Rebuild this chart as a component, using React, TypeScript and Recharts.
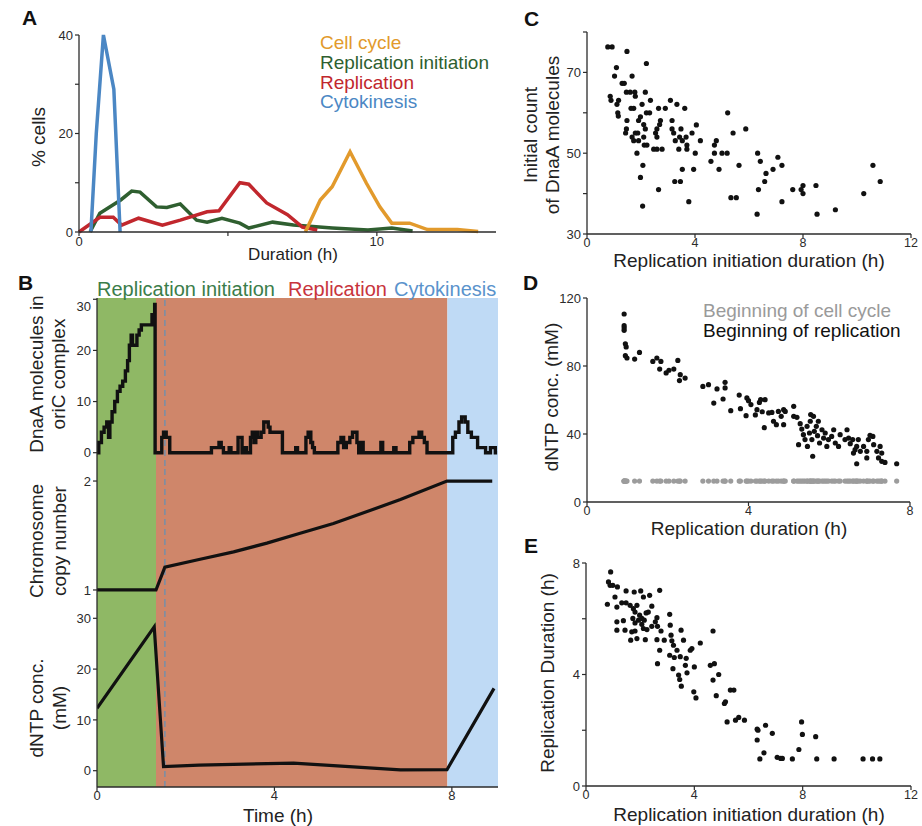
import React from "react";
import {
  LineChart,
  Line,
  ScatterChart,
  Scatter,
  XAxis,
  YAxis,
  ReferenceArea,
  ReferenceLine,
} from "recharts";

// ---- A: distribution of phase durations (h -> % cells)
const cellCycleHours = [7.6, 8.1, 8.5, 9.1, 9.65, 10.1, 10.5, 11.1, 11.7, 12.7, 13.4];
const cellCyclePct = [0, 6.5, 9.2, 16.3, 9.9, 5.1, 1.8, 1.8, 0.5, 0.5, 0.1];
const initiationHours = [0.37, 0.7, 1.4, 1.77, 2.05, 2.6, 2.95, 3.4, 3.95, 4.3, 4.8, 5.4, 5.7, 6.5, 7.2, 8.5, 9.7, 10.5, 11.2];
const initiationPct = [0, 3.8, 6.5, 8.3, 8.1, 5.1, 5.0, 5.7, 2.4, 2.0, 2.8, 1.8, 0.8, 2.0, 1.4, 0.8, 0.4, 0.8, 0.2];
const replicationHours = [0, 0.7, 1.15, 1.43, 2.0, 2.8, 3.4, 4.3, 4.7, 5.4, 5.7, 6.3, 7.0, 7.5, 8.0];
const replicationPct = [0, 3.0, 3.0, 1.4, 2.8, 1.4, 2.4, 4.1, 4.3, 10, 9.7, 5.9, 3.5, 1.0, 0.4];
const cytokinesisHours = [0.4, 0.58, 0.82, 1.17, 1.38];
const cytokinesisPct = [0, 20, 40, 29, 0];

// ---- B: single cell trace over time (h)
const phaseBounds = [0, 1.33, 7.9, 9.04]; // initiation | replication | cytokinesis
const replicationStart = 1.53;
const dnaaTime = [
  0, 0.04, 0.1, 0.16, 0.22, 0.26, 0.29, 0.34, 0.4, 0.46, 0.52, 0.58, 0.64, 0.69, 0.73, 0.77, 0.8, 0.86, 0.9, 0.95, 1.0, 1.1, 1.2, 1.24, 1.3, 1.31,
  1.4, 1.46, 1.5, 1.56, 1.64,
  2.55, 2.58, 2.7, 2.75, 2.8, 2.85, 2.95, 2.98, 3.02, 3.15, 3.18, 3.24, 3.27, 3.32, 3.34, 3.37, 3.44, 3.46, 3.5, 3.54, 3.58, 3.62, 3.7, 3.76, 3.82, 3.86, 3.9, 4.12, 4.18,
  4.45, 4.48, 4.52, 4.68, 4.71, 4.76, 4.82, 4.86, 4.9,
  5.4, 5.43, 5.5, 5.56, 5.62, 5.7, 5.76, 5.82, 5.86, 5.9, 5.96, 6.0, 6.37, 6.4, 6.44, 6.66, 6.69, 6.74,
  7.0, 7.05, 7.12, 7.2, 7.26, 7.32, 7.38, 7.44,
  7.97, 8.02, 8.08, 8.16, 8.22, 8.3, 8.36, 8.44, 8.52, 8.58, 8.7, 8.76, 8.84, 8.87, 8.94, 8.98, 9.02,
];
const dnaaCount = [
  0, 2, 4, 5, 6, 3, 6, 8, 10, 12, 13, 14, 16, 18, 21, 23, 21, 21, 23, 24, 25, 25, 25, 27, 29, 0,
  0, 3, 4, 3, 0,
  0, 1, 1, 2, 1, 0, 0, 1, 0, 0, 3, 3, 0, 0, 1, 0, 0, 3, 4, 2, 4, 3, 4, 6, 6, 5, 4, 4, 0,
  0, 1, 0, 0, 3, 4, 2, 1, 0,
  0, 2, 3, 1, 2, 3, 4, 4, 2, 0, 2, 0, 0, 2, 0, 0, 1, 0,
  0, 2, 3, 3, 4, 3, 2, 0,
  0, 3, 4, 6, 7, 6, 4, 3, 3, 1, 1, 0, 0, 1, 1, 0, 0,
];
const chromTime = [0, 1.33, 1.53, 2.3, 3.08, 3.83, 4.58, 5.33, 6.09, 6.84, 7.89, 8.91];
const chromCopies = [1, 1, 1.21, 1.28, 1.35, 1.43, 1.52, 1.61, 1.72, 1.83, 2.0, 2.0];
const dntpTime = [0, 1.29, 1.5, 2.3, 4.43, 5.33, 6.84, 7.89, 8.95];
const dntpConc = [12.3, 28.3, 0.8, 1.1, 1.5, 1.0, 0.15, 0.2, 16.2];

// ---- C: initiation duration (h) vs initial DnaA count
const cInit = [
  0.77, 0.93, 1.48, 2.2, 1.09, 1.02, 1.67, 1.3, 1.38, 1.46,
  1.6, 1.77, 2.16, 1.79, 0.86, 0.89, 1.17, 2.35, 3.09, 1.11,
  3.33, 2.04, 1.73, 1.63, 2.65, 2.9, 3.62, 1.14, 1.16, 2.2,
  2.32, 5.21, 1.98, 1.91, 1.48, 2.72, 3.15, 2.1, 2.69, 4.05,
  5.88, 1.46, 2.16, 3.15, 3.48, 2.59, 1.43, 1.79, 1.88, 2.54,
  3.21, 3.89, 5.41, 1.67, 2.1, 2.59, 3.43, 3.67, 1.73, 1.91,
  3.27, 3.53, 4.2, 4.79, 2.12, 2.22, 3.7, 4.72, 2.47, 2.59,
  2.78, 3.4, 3.7, 1.85, 4.01, 4.72, 5.0, 5.19, 6.32, 6.42,
  4.59, 2.07, 5.63, 7.22, 10.59, 7.07, 3.53, 3.95, 4.89, 6.89,
  6.63, 6.58, 3.25, 3.46, 10.86, 1.98, 8.0, 8.48, 7.93, 7.62,
  2.65, 6.35, 8.0, 10.25, 5.33, 5.53, 3.77, 7.22, 9.2, 2.06,
  6.3, 8.52,
];
const cCount = [
  76.3, 76.3, 75.2, 72.2, 71.2, 69.1, 69.1, 67.3, 67.3, 65.1,
  65.1, 65.1, 65.1, 64.1, 64.1, 63.1, 63.1, 63.1, 63.1, 62.1,
  62.1, 62.1, 61.1, 61.1, 61.1, 61.1, 61.1, 60, 59.2, 60,
  60, 60, 59, 58.1, 58.1, 58.1, 58.1, 57.1, 57.1, 57,
  56, 56, 56, 56, 56, 56, 55, 55, 55, 55,
  55, 55, 55, 54, 54, 54, 54, 54, 53.1, 53.1,
  53.1, 53.1, 53.1, 53.1, 52, 52, 52, 52, 51, 51,
  51, 51, 51, 50, 50, 50, 50, 50, 50, 48,
  48, 47, 47, 47, 47, 49, 46, 46, 46, 46,
  45, 43, 43, 43, 43, 44, 42, 42, 41, 41,
  41, 41, 40, 40, 39, 39, 38, 38, 36, 36.9,
  34.9, 34.9,
];

// ---- D: replication duration (h) vs dNTP (mM)
const dDur = [
  0.92, 0.92, 0.92, 0.92, 0.95, 0.97, 0.95, 0.99, 1.18, 1.3,
  1.63, 1.73, 1.83, 1.8, 1.96, 2.03, 2.15, 2.25, 2.31, 2.29,
  2.43, 2.87, 3.01, 3.14, 3.22, 3.37, 3.42, 3.42, 3.56, 3.77,
  3.8, 3.96, 4.0, 4.06, 3.94, 4.17, 4.21, 4.27, 4.3, 4.41,
  4.34, 4.39, 4.5, 4.58, 4.62, 4.69, 4.74, 4.81, 4.87, 4.87,
  4.91, 5.12, 5.12, 5.2, 5.28, 5.24, 5.32, 5.36, 5.4, 5.45,
  5.46, 5.51, 5.53, 5.54, 5.57, 5.59, 5.61, 5.63, 5.68, 5.71,
  5.73, 5.76, 5.82, 5.86, 5.9, 5.94, 5.98, 6.06, 6.11, 6.15,
  6.23, 6.27, 6.39, 6.44, 6.48, 6.52, 6.58, 6.64, 6.72, 6.68,
  6.85, 6.93, 6.97, 7.1, 7.08, 7.18, 7.22, 7.3, 6.68, 6.93,
  7.01, 7.3, 7.38, 7.67, 7.26, 6.6, 6.77,
];
const dReplicationConc = [
  110.6, 103.7, 102.4, 101, 93.1, 91.2, 86.1, 84.7, 84.1, 88,
  82.7, 84.7, 82.7, 78.2, 75.9, 77.5, 78.2, 83.3, 74.9, 71.4,
  72.9, 68, 69, 58.2, 66.5, 60.6, 67.1, 70.4, 53.7, 62.9,
  54.9, 61.2, 59.6, 57.3, 50.8, 51.2, 54.3, 58.6, 60.2, 60.2,
  53.1, 43.7, 52.4, 52.7, 47.5, 45.5, 53.3, 50.4, 54.3, 45.5,
  53.3, 56.3, 50.4, 49.8, 46.1, 33.7, 42.9, 39.6, 36.7, 44.5,
  32.7, 40.6, 47.5, 51.4, 36.7, 26.9, 50.4, 41.6, 44.5, 39,
  47.5, 34.7, 42.5, 37.6, 40.6, 32.7, 36.7, 38.6, 42.5, 34.7,
  32.7, 39.6, 36.7, 42.5, 37.6, 34.3, 36.7, 30.8, 36.7, 32.7,
  32.7, 29.8, 36.7, 33.7, 38.6, 29.8, 25.9, 28.8, 22.5, 25.9,
  39.2, 23.9, 23.3, 22.5, 32.7, 28.8, 29.8,
];
const cycleStartConc = 12.3; // every cell is born with the same dNTP level

// ---- E: initiation duration (h) vs replication duration (h)
const eInit = [
  0.91, 0.83, 0.89, 0.99, 1.16, 0.79, 1.07, 1.14, 1.48, 1.78,
  2.02, 2.12, 2.35, 2.72, 1.32, 1.48, 1.63, 1.75, 1.81, 1.88,
  1.98, 2.06, 2.15, 2.22, 2.3, 2.43, 1.73, 1.81, 1.94, 2.06,
  2.12, 2.25, 2.56, 2.62, 2.64, 1.14, 1.38, 1.14, 1.44, 1.69,
  1.81, 1.65, 1.88, 2.19, 2.43, 2.77, 2.62, 2.89, 2.72, 2.64,
  3.09, 3.11, 3.14, 3.17, 3.23, 3.09, 3.26, 3.36, 3.21, 3.51,
  3.6, 3.48, 3.7, 3.67, 3.42, 3.46, 3.52, 3.73, 3.85, 3.91,
  4.22, 4.0, 3.98, 4.06, 4.69, 4.59, 4.74, 4.69, 4.9, 4.81,
  5.11, 5.15, 5.21, 5.33, 5.46, 5.52, 5.64, 5.85, 6.32, 6.35,
  6.32, 6.63, 6.42, 6.57, 6.88, 7.06, 7.19, 7.25, 7.62, 7.86,
  7.96, 7.99, 8.48, 8.52, 9.16, 10.23, 10.58, 10.85,
];
const eRep = [
  7.68, 7.32, 7.2, 7.2, 7.14, 6.52, 6.78, 6.42, 7.0, 6.96,
  7.0, 6.78, 6.84, 7.02, 6.57, 6.57, 6.48, 6.36, 6.24, 6.48,
  6.13, 6.01, 5.95, 6.21, 6.24, 6.45, 6.01, 5.85, 5.95, 5.8,
  5.65, 5.61, 5.89, 6.04, 5.73, 5.89, 5.93, 5.59, 5.59, 5.53,
  5.56, 5.23, 5.29, 5.25, 5.73, 5.56, 5.25, 5.23, 4.87, 4.39,
  6.16, 5.77, 5.41, 5.21, 5.05, 4.69, 4.61, 4.87, 4.21, 5.59,
  5.23, 4.64, 4.58, 4.33, 3.98, 3.82, 3.58, 4.06, 4.87, 4.93,
  5.13, 4.27, 3.38, 3.16, 5.56, 4.33, 4.39, 3.8, 4.0, 3.24,
  2.96, 3.02, 2.3, 3.44, 3.44, 2.36, 2.46, 2.36, 2.04, 2.0,
  1.65, 2.18, 0.97, 1.19, 1.89, 1.03, 0.99, 0.99, 0.97, 1.31,
  2.3, 1.85, 1.77, 0.97, 0.97, 0.97, 0.97, 0.97,
];

const zip = (xs: number[], ys: number[]) => xs.map((x, i) => ({ x, y: ys[i] }));

const INK = "#2b2b2b";
const FONT = "'Liberation Sans', Arial, Helvetica, sans-serif";
const tick = { fill: INK, fontSize: 13 };
const axisLine = { stroke: INK, strokeWidth: 1.3 };
const tickLine = { stroke: INK, strokeWidth: 1.2 };
const only = (keep: number[]) => (v: number) => (keep.includes(v) ? String(v) : "");

const COL = {
  cycle: "#e29a2c",
  init: "#2f5f30",
  rep: "#c1272d",
  cyto: "#4b87c4",
  bgInit: "#8fb865",
  bgRep: "#cf866a",
  bgCyto: "#bfdaf5",
};

const dot = (fill: string) => (p: any) => <circle cx={p.cx} cy={p.cy} r={2.6} fill={fill} />;

function Place({ left, top, children }: { left: number; top: number; children: React.ReactNode }) {
  return <div style={{ position: "absolute", left, top }}>{children}</div>;
}

function VText({ x, y, children, size = 19, fill = "#222" }: any) {
  return (
    <text x={x} y={y} transform={`rotate(-90 ${x} ${y})`} textAnchor="middle" fontSize={size} fill={fill}>
      {children}
    </text>
  );
}

// shaded phases + start of replication, shared by the three B rows
function phaseLayers() {
  return [
    <ReferenceArea key="a" x1={phaseBounds[0]} x2={phaseBounds[1]} fill={COL.bgInit} fillOpacity={1} stroke="none" />,
    <ReferenceArea key="b" x1={phaseBounds[1]} x2={phaseBounds[2]} fill={COL.bgRep} fillOpacity={1} stroke="none" />,
    <ReferenceArea key="c" x1={phaseBounds[2]} x2={phaseBounds[3]} fill={COL.bgCyto} fillOpacity={1} stroke="none" />,
    <ReferenceLine key="d" x={replicationStart} stroke="#7d8ea3" strokeWidth={1.6} strokeDasharray="6 4" />,
  ];
}

const bX = { type: "number" as const, dataKey: "x", domain: [0, phaseBounds[3]], allowDataOverflow: true };
const sX = {
  type: "number" as const, dataKey: "x", height: 30, tick: { fill: INK, fontSize: 12.5 },
  tickSize: 4, tickMargin: 0, axisLine, tickLine,
};

export default function App() {
  return (
    <div style={{ position: "absolute", left: 0, top: 0, width: 922, height: 826, background: "#fff", fontFamily: FONT }}>
      {/* A */}
      <Place left={0} top={0}>
        <LineChart width={510} height={260} margin={{ top: 35, right: 14, bottom: 0, left: 0 }}>
          <XAxis type="number" dataKey="x" domain={[0, 14]} ticks={[0, 5, 10]} tickFormatter={only([0, 10])}
            height={28} tick={tick} tickSize={4} tickMargin={1} axisLine={axisLine} tickLine={tickLine} />
          <YAxis type="number" domain={[0, 40]} ticks={[0, 10, 20, 30, 40]} tickFormatter={only([0, 20, 40])}
            width={79} tick={tick} tickSize={4} axisLine={axisLine} tickLine={tickLine} />
          <Line data={zip(initiationHours, initiationPct)} dataKey="y" stroke={COL.init} strokeWidth={3.5} dot={false} isAnimationActive={false} />
          <Line data={zip(replicationHours, replicationPct)} dataKey="y" stroke={COL.rep} strokeWidth={3.5} dot={false} isAnimationActive={false} />
          <Line data={zip(cellCycleHours, cellCyclePct)} dataKey="y" stroke={COL.cycle} strokeWidth={3.5} dot={false} isAnimationActive={false} />
          <Line data={zip(cytokinesisHours, cytokinesisPct)} dataKey="y" stroke={COL.cyto} strokeWidth={3.5} dot={false} isAnimationActive={false} />
        </LineChart>
      </Place>

      {/* B, top row: DnaA at oriC */}
      <Place left={0} top={298}>
        <LineChart width={510} height={168} margin={{ top: 0, right: 12, bottom: 0, left: 0 }}>
          <XAxis {...bX} hide />
          <YAxis type="number" domain={[-2.6, 30.25]} allowDataOverflow ticks={[0, 10, 20, 30]} width={97}
            tick={tick} tickSize={4} axisLine={axisLine} tickLine={tickLine} />
          {phaseLayers()}
          <Line type="stepAfter" data={zip(dnaaTime, dnaaCount)} dataKey="y" stroke="#111" strokeWidth={3.4} dot={false} isAnimationActive={false} />
        </LineChart>
      </Place>

      {/* B, middle row: chromosome copies */}
      <Place left={0} top={466}>
        <LineChart width={510} height={139} margin={{ top: 0, right: 12, bottom: 0, left: 0 }}>
          <XAxis {...bX} hide />
          <YAxis type="number" domain={[0.862, 2.138]} allowDataOverflow ticks={[1, 2]} width={97}
            tick={tick} tickSize={4} axisLine={axisLine} tickLine={tickLine} />
          {phaseLayers()}
          <Line data={zip(chromTime, chromCopies)} dataKey="y" stroke="#111" strokeWidth={3.2} dot={false} isAnimationActive={false} />
        </LineChart>
      </Place>

      {/* B, bottom row: dNTP */}
      <Place left={0} top={605}>
        <LineChart width={510} height={216} margin={{ top: 0, right: 12, bottom: 0, left: 0 }}>
          <XAxis {...bX} ticks={[0, 4, 8]} height={34} tick={tick} tickSize={4} tickMargin={0} axisLine={axisLine} tickLine={tickLine} />
          <YAxis type="number" domain={[-3.21, 32.62]} allowDataOverflow ticks={[0, 10, 20, 30]} width={97}
            tick={tick} tickSize={4} axisLine={axisLine} tickLine={tickLine} />
          {phaseLayers()}
          <Line data={zip(dntpTime, dntpConc)} dataKey="y" stroke="#111" strokeWidth={3.2} dot={false} isAnimationActive={false} />
        </LineChart>
      </Place>

      {/* C */}
      <Place left={537} top={22}>
        <ScatterChart width={386} height={242} margin={{ top: 10, right: 12, bottom: 0, left: 0 }}>
          <XAxis {...sX} domain={[0, 12]} ticks={[0, 4, 8, 12]} />
          <YAxis type="number" dataKey="y" domain={[30, 80]} ticks={[30, 40, 50, 60, 70, 80]} tickFormatter={only([30, 50, 70])}
            width={50} tick={tick} tickSize={4} axisLine={axisLine} tickLine={tickLine} />
          <Scatter data={zip(cInit, cCount)} shape={dot("#111")} isAnimationActive={false} />
        </ScatterChart>
      </Place>

      {/* D */}
      <Place left={537} top={288}>
        <ScatterChart width={385} height={244} margin={{ top: 10, right: 12, bottom: 0, left: 0 }}>
          <XAxis {...sX} domain={[0, 8]} ticks={[0, 4, 8]} />
          <YAxis type="number" dataKey="y" domain={[0, 120]} ticks={[0, 40, 80, 120]}
            width={50} tick={tick} tickSize={4} axisLine={axisLine} tickLine={tickLine} />
          <Scatter data={dDur.map((x) => ({ x, y: cycleStartConc }))} shape={dot("#9c9c9c")} isAnimationActive={false} />
          <Scatter data={zip(dDur, dReplicationConc)} shape={dot("#111")} isAnimationActive={false} />
        </ScatterChart>
      </Place>

      {/* E */}
      <Place left={536} top={553}>
        <ScatterChart width={387} height={263} margin={{ top: 10, right: 12, bottom: 0, left: 0 }}>
          <XAxis {...sX} domain={[0, 12]} ticks={[0, 4, 8, 12]} />
          <YAxis type="number" dataKey="y" domain={[0, 8]} ticks={[0, 2, 4, 6, 8]} tickFormatter={only([0, 4, 8])}
            width={50} tick={tick} tickSize={4} axisLine={axisLine} tickLine={tickLine} />
          <Scatter data={zip(eInit, eRep)} shape={dot("#111")} isAnimationActive={false} />
        </ScatterChart>
      </Place>

      {/* titles, legends, panel letters */}
      <svg width={922} height={826} style={{ position: "absolute", left: 0, top: 0, pointerEvents: "none" }} fontFamily={FONT}>
        <g fontWeight="bold" fontSize={21} fill="#111">
          <text x={22} y={25}>A</text>
          <text x={18} y={290}>B</text>
          <text x={524} y={26}>C</text>
          <text x={523} y={290}>D</text>
          <text x={524} y={553}>E</text>
        </g>

        <g fontSize={19}>
          <text x={320} y={49.3} fill={COL.cycle}>Cell cycle</text>
          <text x={320} y={69} fill={COL.init}>Replication initiation</text>
          <text x={320} y={88.7} fill={COL.rep}>Replication</text>
          <text x={320} y={108.4} fill={COL.cyto}>Cytokinesis</text>
        </g>
        <text x={293} y={260} fontSize={17} textAnchor="middle" fill="#222">Duration (h)</text>
        <VText x={45} y={137}>% cells</VText>

        <g fontSize={20}>
          <text x={97} y={296} fill="#3b7d4a">Replication initiation</text>
          <text x={288} y={296} fill="#c8343c">Replication</text>
          <text x={394} y={296} fill="#5a93cc">Cytokinesis</text>
        </g>
        <VText x={43} y={374}>DnaA molecules in</VText>
        <VText x={65} y={374}>oriC complex</VText>
        <VText x={43} y={541}>Chromosome</VText>
        <VText x={66} y={541}>copy number</VText>
        <VText x={43} y={708}>dNTP conc.</VText>
        <VText x={66} y={708}>(mM)</VText>
        <text x={278} y={822} fontSize={19} textAnchor="middle" fill="#222">Time (h)</text>

        <text x={749} y={267} fontSize={19} textAnchor="middle" fill="#222">Replication initiation duration (h)</text>
        <VText x={537} y={135}>Initial count</VText>
        <VText x={559} y={135}>of DnaA molecules</VText>

        <text x={749} y={535} fontSize={19} textAnchor="middle" fill="#222">Replication duration (h)</text>
        <VText x={558} y={397}>dNTP conc. (mM)</VText>
        <text x={703} y={317} fontSize={19} fill="#9a9a9a">Beginning of cell cycle</text>
        <text x={703} y={337} fontSize={19} fill="#111">Beginning of replication</text>

        <text x={749} y={821} fontSize={19} textAnchor="middle" fill="#222">Replication initiation duration (h)</text>
        <VText x={554} y={673}>Replication Duration (h)</VText>
      </svg>
    </div>
  );
}
